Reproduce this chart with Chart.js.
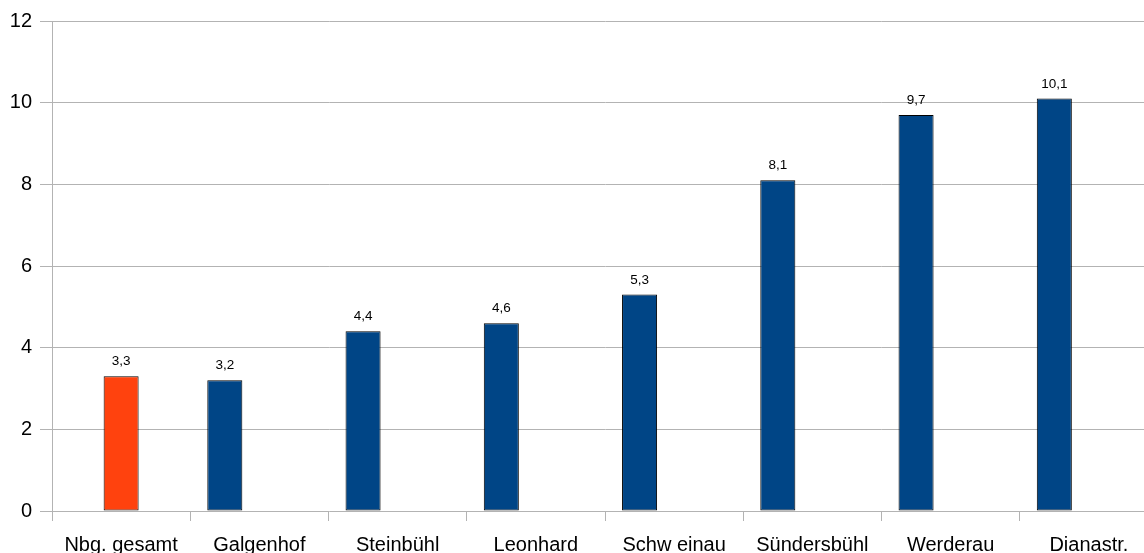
<!DOCTYPE html>
<html>
<head>
<meta charset="utf-8">
<script src="https://cdn.jsdelivr.net/npm/chart.js@4/dist/chart.umd.min.js"></script>
<style>
  html, body { margin: 0; padding: 0; background: #fff; overflow: hidden; }
  #wrap { width: 1160px; height: 553px; }
</style>
</head>
<body>
<div id="wrap"><canvas id="chart"></canvas></div>
<script>
// categories and values
const categories = ["Nbg. gesamt", "Galgenhof", "Steinbühl", "Leonhard", "Schw einau", "Sündersbühl", "Werderau", "Dianastr."];
const totalValues    = [3.3, null, null, null, null, null, null, null];
const districtValues = [null, 3.2, 4.4, 4.6, 5.3, 8.1, 9.7, 10.1];
const yTicks = [0, 2, 4, 6, 8, 10, 12];

const gridColor = "#b3b3b3";
const font = "'Liberation Sans', Arial, sans-serif";

// value labels over the bars, German decimal comma
const valueLabels = {
  id: "valueLabels",
  afterDatasetsDraw(chart) {
    const ctx = chart.ctx;
    ctx.save();
    ctx.font = "13.5px " + font;
    ctx.fillStyle = "#000";
    ctx.textAlign = "center";
    ctx.textBaseline = "alphabetic";
    chart.data.datasets.forEach((ds, i) => {
      const meta = chart.getDatasetMeta(i);
      meta.data.forEach((bar, j) => {
        const v = ds.data[j];
        if (v === null) return;
        ctx.fillText(String(v).replace(".", ","), bar.x, bar.y - 11);
      });
    });
    ctx.restore();
  }
};

new Chart(document.getElementById("chart"), {
  type: "bar",
  data: {
    labels: categories,
    datasets: [
      {
        data: districtValues,
        backgroundColor: "#004586",
        borderColor: "#000",
        borderWidth: 1,
        borderSkipped: false
      },
      {
        data: totalValues,
        backgroundColor: "#ff420e",
        borderColor: "#000",
        borderWidth: 1,
        borderSkipped: false,
        skipNull: true,
        maxBarThickness: 35
      }
    ]
  },
  options: {
    responsive: true,
    maintainAspectRatio: false,
    animation: false,
    categoryPercentage: 1.0,
    barPercentage: 0.507,
    layout: { padding: { top: 21, right: 2, left: 0, bottom: 0 } },
    plugins: {
      legend: { display: false },
      tooltip: { enabled: false }
    },
    scales: {
      x: {
        grid: {
          offset: true,
          drawOnChartArea: false,
          drawTicks: true,
          tickLength: 10,
          color: gridColor
        },
        border: { display: false },
        ticks: {
          color: "#000",
          font: { family: font, size: 20 },
          padding: 12,
          maxRotation: 0,
          autoSkip: false
        },
        afterFit: s => { s.height = 42; }
      },
      y: {
        min: 0,
        max: 12,
        afterBuildTicks: s => { s.ticks = yTicks.map(v => ({ value: v })); },
        grid: {
          color: gridColor,
          tickLength: 12,
          drawTicks: true
        },
        border: { display: true, color: gridColor },
        ticks: {
          color: "#000",
          font: { family: font, size: 20 },
          padding: 8
        },
        afterFit: s => { s.width = 52; }
      }
    }
  },
  plugins: [valueLabels]
});
</script>
</body>
</html>
